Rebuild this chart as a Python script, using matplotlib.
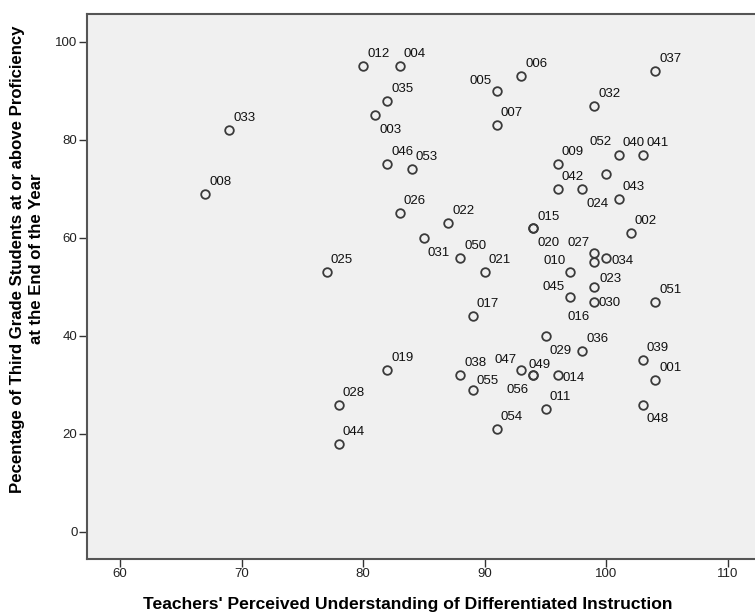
import matplotlib
matplotlib.use("Agg")
import matplotlib.pyplot as plt

plt.rcParams['font.family'] = ['Liberation Sans', 'DejaVu Sans']

# ---- data ----
ids = ["001", "002", "003", "004", "005", "006", "007", "008", "009", "010",
       "011", "012", "014", "015", "016", "017", "019", "020", "021", "022",
       "023", "024", "025", "026", "027", "028", "029", "030", "031", "032",
       "033", "034", "035", "036", "037", "038", "039", "040", "041", "042",
       "043", "044", "045", "046", "047", "048", "049", "050", "051", "052",
       "053", "054", "055", "056"]
understanding = [104, 102, 81, 83, 91, 93, 91, 67, 96, 99,
                 95, 80, 96, 94, 97, 89, 82, 94, 90, 87,
                 99, 98, 77, 83, 99, 78, 95, 99, 85, 99,
                 69, 100, 82, 98, 104, 88, 103, 101, 103, 96,
                 101, 78, 97, 82, 93, 103, 94, 88, 104, 100,
                 84, 91, 89, 94]
proficiency = [31, 61, 85, 95, 90, 93, 83, 69, 75, 55,
               25, 95, 32, 62, 48, 44, 33, 62, 53, 63,
               50, 70, 53, 65, 57, 26, 40, 47, 60, 87,
               82, 56, 88, 37, 94, 32, 35, 77, 77, 70,
               68, 18, 53, 75, 33, 26, 32, 56, 47, 73,
               74, 21, 29, 32]

x_ticks = [60, 70, 80, 90, 100, 110]
y_ticks = [0, 20, 40, 60, 80, 100]
x_title = "Teachers' Perceived Understanding of Differentiated Instruction"
y_title = "Pecentage of Third Grade Students at or above Proficiency\nat the End of the Year"

# label placement (pixel offsets of text baseline-left from point), layout only
default_off = (4, 9)
label_off = {
    "003": (4, -18), "005": (-27, 7), "020": (4, -18), "027": (-27, 7),
    "034": (5, -6), "010": (-51, -2), "023": (5, 5), "045": (-27, -18),
    "030": (4, -4), "016": (-2, -23), "031": (4, -18), "029": (4, -18),
    "048": (4, -17), "047": (-27, 7), "049": (-5, 7), "055": (4, 6),
    "056": (-27, -18), "014": (5, -6), "052": (-17, 29), "024": (4, -18),
    "015": (4, 8),
}

W, H = 755, 616
fig = plt.figure(figsize=(W / 100, H / 100), dpi=100, facecolor="white")
left, right, bottom, top = 87, 755, 559, 14
ax = fig.add_axes([left / W, (H - bottom) / H, (right - left) / W, (bottom - top) / H])
ax.set_facecolor("#F0F0F0")

ax.plot(understanding, proficiency, linestyle="none", marker="o", markersize=6.2,
        markerfacecolor="none", markeredgecolor="#3a3a3a", markeredgewidth=1.3)

for name, xv, yv in zip(ids, understanding, proficiency):
    dx, dy = label_off.get(name, default_off)
    ax.annotate(name, (xv, yv), xytext=(dx, dy), textcoords="offset pixels",
                ha="left", va="baseline", fontsize=9.5, color="#111111")

ax.set_xlim(57.29, 112.22)
ax.set_ylim(-5.51, 105.71)
ax.set_xticks(x_ticks)
ax.set_yticks(y_ticks)
ax.tick_params(direction="out", length=5.8, width=1.0, color="#333333",
               labelsize=9.5, labelcolor="#222222", pad=1)

for s in ["left", "bottom", "top"]:
    ax.spines[s].set_color("#555555")
    ax.spines[s].set_linewidth(1.5)
ax.spines["right"].set_visible(False)

fig.text(408 / W, 1 - 604 / H, x_title, ha="center", va="center",
         fontsize=12.6, fontweight="bold")
fig.text(27 / W, 1 - 259 / H, y_title, ha="center", va="center", rotation=90,
         fontsize=12.1, fontweight="bold", multialignment="center", linespacing=1.3)

fig.savefig("out.png", dpi=100, facecolor="white")
